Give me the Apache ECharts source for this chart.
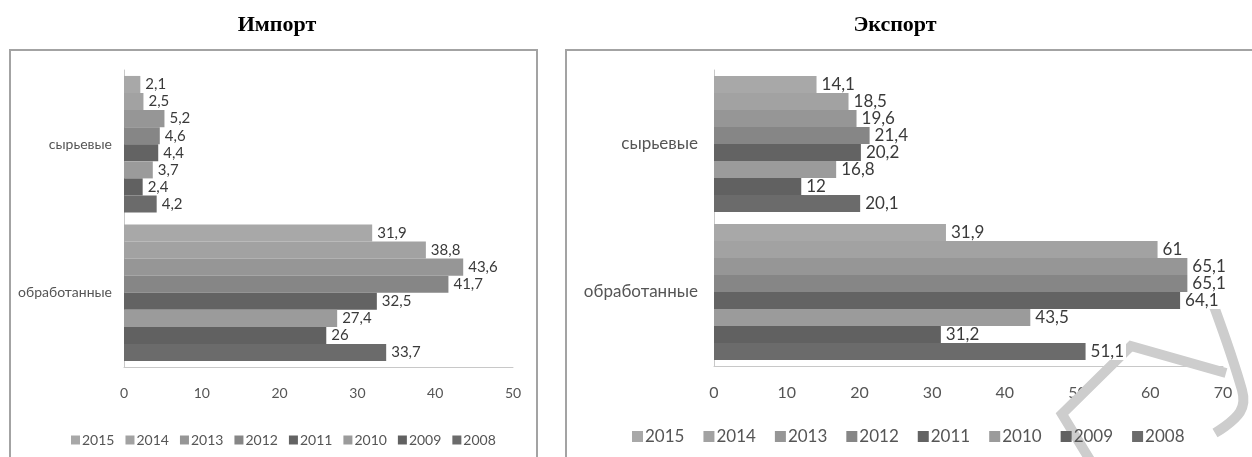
<!DOCTYPE html>
<html>
<head>
<meta charset="utf-8">
<script src="https://cdn.jsdelivr.net/npm/echarts@6/dist/echarts.min.js"></script>
<style>
  html, body { margin: 0; padding: 0; background: #fff; }
  #chart { width: 1252px; height: 457px; }
</style>
</head>
<body>
<div id="chart"></div>
<script>
// categories, bottom to top on the axis
var categories = ['обработанные', 'сырьевые'];
// series order: first one is drawn at the top of each group
var years = ['2015', '2014', '2013', '2012', '2011', '2010', '2009', '2008'];
var yearColors = {
    '2015': '#a8a8a8', '2014': '#a2a2a2', '2013': '#969696', '2012': '#868686',
    '2011': '#636363', '2010': '#9b9b9b', '2009': '#616161', '2008': '#6b6b6b'
};

var importProcessed = { '2015': 31.9, '2014': 38.8, '2013': 43.6, '2012': 41.7, '2011': 32.5, '2010': 27.4, '2009': 26, '2008': 33.7 };
var importRaw = { '2015': 2.1, '2014': 2.5, '2013': 5.2, '2012': 4.6, '2011': 4.4, '2010': 3.7, '2009': 2.4, '2008': 4.2 };
var exportProcessed = { '2015': 31.9, '2014': 61, '2013': 65.1, '2012': 65.1, '2011': 64.1, '2010': 43.5, '2009': 31.2, '2008': 51.1 };
var exportRaw = { '2015': 14.1, '2014': 18.5, '2013': 19.6, '2012': 21.4, '2011': 20.2, '2010': 16.8, '2009': 12, '2008': 20.1 };

var importTicks = [0, 10, 20, 30, 40, 50];
var exportTicks = [0, 10, 20, 30, 40, 50, 60, 70];

var fontFam = 'Lato, "Open Sans", sans-serif';

function fmt(p) {
    return String(p.value).replace('.', ',');
}

var series = [];
function addSeries(idx, processed, raw, size) {
    years.forEach(function (y) {
        series.push({
            name: y, type: 'bar', xAxisIndex: idx, yAxisIndex: idx,
            barGap: '0%', barCategoryGap: '8%',
            data: [processed[y], raw[y]],
            itemStyle: { color: yearColors[y] },
            label: {
                show: true, position: 'right', distance: 3, formatter: fmt,
                color: '#3a3a3a', fontSize: size, fontFamily: fontFam,
                backgroundColor: '#fff', padding: [0, 2, 0, 2], lineHeight: size
            }
        });
    });
}
addSeries(0, importProcessed, importRaw, 15);
addSeries(1, exportProcessed, exportRaw, 17);

function valueAxis(idx, ticks, size) {
    return {
        type: 'value', gridIndex: idx,
        min: ticks[0], max: ticks[ticks.length - 1], interval: ticks[1] - ticks[0],
        axisLine: { show: true, lineStyle: { color: '#c8c8c8', width: 1 } },
        axisTick: { show: false },
        splitLine: { show: false },
        axisLabel: { color: '#555', fontSize: size, fontFamily: fontFam, margin: 19 }
    };
}
function catAxis(idx, size, margin) {
    return {
        type: 'category', gridIndex: idx, data: categories,
        axisLine: { show: true, lineStyle: { color: '#c8c8c8', width: 1 } },
        axisTick: { show: false },
        axisLabel: { color: '#555', fontSize: size, fontFamily: fontFam, margin: margin }
    };
}

var chart = echarts.init(document.getElementById('chart'));
chart.setOption({
    animation: false,
    title: [
        { text: 'Импорт', left: 272, top: 9, textAlign: 'center',
          textStyle: { fontFamily: '"Liberation Serif", serif', fontWeight: 'bold', fontSize: 22, color: '#000' } },
        { text: 'Экспорт', left: 890, top: 9, textAlign: 'center',
          textStyle: { fontFamily: '"Liberation Serif", serif', fontWeight: 'bold', fontSize: 22, color: '#000' } }
    ],
    grid: [
        { left: 124, right: 739, top: 70, bottom: 90 },
        { left: 714, right: 29, top: 70, bottom: 91 }
    ],
    xAxis: [valueAxis(0, importTicks, 14), valueAxis(1, exportTicks, 16)],
    yAxis: [catAxis(0, 14, 12), catAxis(1, 17, 16)],
    legend: [
        { data: years, left: 66, top: 428, itemWidth: 9, itemHeight: 9, itemGap: 11,
          icon: 'rect', textStyle: { color: '#555', fontSize: 14, fontFamily: fontFam, padding: [0, 0, 0, -3] } },
        { data: years, left: 627, top: 423, itemWidth: 11, itemHeight: 11, itemGap: 19,
          icon: 'rect', textStyle: { color: '#555', fontSize: 17, fontFamily: fontFam, padding: [0, 0, 0, -3] } }
    ],
    graphic: [
        { type: 'rect', shape: { x: 10, y: 50, width: 527, height: 420 },
          style: { fill: null, stroke: '#a3a3a3', lineWidth: 2 }, z: -1 },
        { type: 'rect', shape: { x: 566, y: 50, width: 700, height: 420 },
          style: { fill: null, stroke: '#a3a3a3', lineWidth: 2 }, z: -1 },
        { type: 'polyline', shape: { points: [[1226, 373], [1131, 346], [1062, 414], [1090, 460]] },
          style: { fill: null, stroke: '#cdcdcd', lineWidth: 10 }, z: 1 },
        { type: 'polyline', shape: { points: [[1198, 264], [1242, 390], [1240, 412], [1215, 433]], smooth: 0.4 },
          style: { fill: null, stroke: '#cdcdcd', lineWidth: 10 }, z: 1 }
    ],
    series: series
});
</script>
</body>
</html>
